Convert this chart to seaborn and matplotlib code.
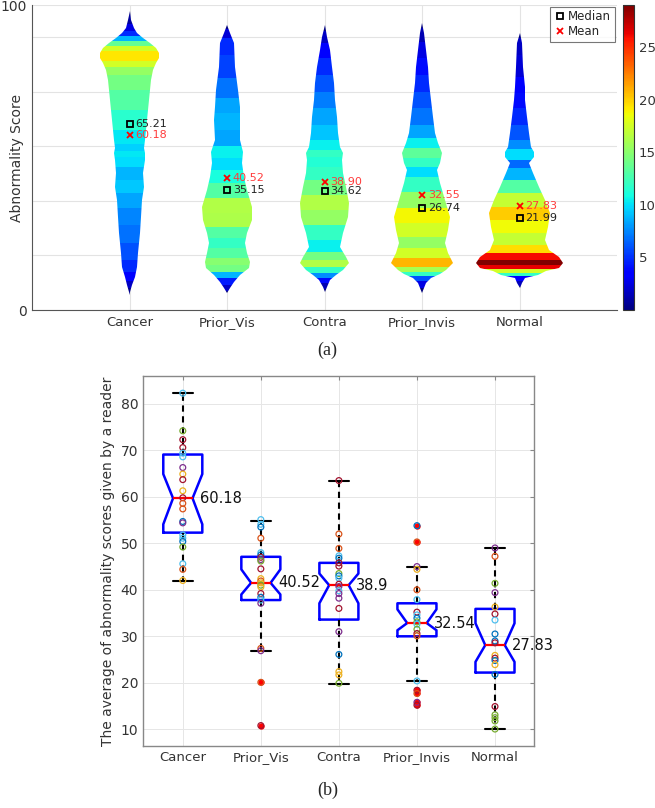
import numpy as np
import pandas as pd
import matplotlib
matplotlib.use("Agg")
import matplotlib.pyplot as plt
from matplotlib.colors import Normalize
from matplotlib.lines import Line2D
import seaborn as sns

sns.set_style("white")
plt.rcParams["font.family"] = ["DejaVu Sans"]

groups = ["Cancer", "Prior_Vis", "Contra", "Prior_Invis", "Normal"]

# ---- (a) violin profiles: score level -> density (colour-bar units) ----
cancer_lv = [98.1, 95.1, 92.3, 90.7, 89.1, 87.4, 85.8, 84.2, 82.5, 80.9, 78.7, 75.4, 68.9, 62.3,
             55.7, 53.0, 51.4, 49.2, 44.8, 40.4, 36.1, 30.6, 25.1, 18.6, 14.2, 10.9, 8.2, 6.0, 4.9]
cancer_d = [0, 0.9, 2.6, 4.8, 8.8, 13.6, 17.5, 19.3, 19.3, 17.5, 15.3, 14.2, 13.1, 11.6,
            10.3, 9.6, 10.3, 9.9, 8.8, 9.4, 8.3, 7.4, 6.8, 5.9, 4.8, 3.3, 1.8, 0.4, 0]

priorvis_lv = [93.4, 90.7, 87.4, 79.8, 72.1, 66.7, 62.3, 55.7, 51.9, 48.1, 43.7, 39.3, 33.9, 29.5,
               25.1, 21.9, 18.6, 15.8, 13.7, 11.5, 9.3, 7.1, 5.5]
priorvis_d = [0, 2.2, 4.8, 5.5, 7.0, 8.3, 8.8, 8.3, 10.5, 9.9, 11.0, 13.1, 16.4, 16.2,
              13.1, 12.0, 13.1, 14.9, 14.2, 8.8, 4.4, 1.8, 0]

contra_lv = [93.4, 89.6, 85.2, 79.8, 74.3, 68.9, 63.4, 57.9, 53.6, 51.4, 49.2, 44.8, 40.4, 35.0,
             30.6, 25.1, 20.8, 17.5, 15.3, 13.1, 11.5, 9.8, 7.7, 6.0]
contra_d = [0, 1.8, 3.3, 4.8, 6.1, 7.2, 8.3, 9.2, 10.5, 12.0, 11.4, 12.0, 14.2, 16.4,
            15.3, 12.0, 10.5, 14.2, 16.4, 12.0, 7.7, 3.9, 1.3, 0]

priorinvis_lv = [94.2, 90.7, 85.2, 79.8, 74.3, 68.9, 63.4, 57.9, 54.6, 51.4, 48.1, 45.9, 41.5, 36.1,
                 30.6, 26.2, 21.9, 18.6, 15.3, 13.1, 11.8, 10.4, 8.7, 5.5]
priorinvis_d = [0, 1.3, 2.6, 3.9, 4.8, 5.9, 7.0, 8.3, 10.5, 13.4, 12.0, 9.9, 12.0, 15.3,
                18.8, 17.5, 15.3, 17.5, 20.8, 16.0, 12.0, 6.0, 2.5, 0]

normal_lv = [90.7, 87.4, 79.8, 73.2, 68.9, 63.4, 57.9, 53.6, 51.9, 50.3, 48.1, 44.8, 40.4, 36.1,
             31.7, 27.3, 23.0, 19.7, 17.5, 15.3, 13.9, 12.9, 11.6, 10.4, 8.7, 7.1]
normal_d = [0, 1.8, 2.2, 3.3, 3.9, 4.8, 6.1, 7.7, 9.9, 9.9, 6.6, 8.8, 13.1, 17.1,
            20.1, 18.6, 17.1, 19.5, 26.0, 28.9, 26.3, 17.5, 12.0, 3.3, 1.5, 0]

median_y = [60.9, 39.3, 39.0, 33.3, 30.1]
mean_y = [57.4, 43.2, 42.1, 37.7, 34.2]
median_txt = [65.21, 35.15, 34.62, 26.74, 21.99]
mean_txt = [60.18, 40.52, 38.90, 32.55, 27.83]

# ---- (b) box statistics ----
q1 = [52.3, 37.8, 33.6, 30.0, 22.2]
q3 = [69.1, 47.1, 45.8, 37.1, 35.9]
med = [59.7, 41.5, 41.0, 32.85, 28.1]
ci_lo = [54.1, 39.0, 37.1, 31.3, 24.5]
ci_hi = [64.9, 44.4, 43.5, 35.8, 32.8]
whis_lo = [42.0, 26.8, 19.8, 20.4, 10.05]
whis_hi = [82.3, 54.9, 63.4, 44.95, 49.0]
fliers = [[], [20.1, 10.8], [], [53.8, 50.3, 18.4, 17.7, 15.8, 15.2], []]
box_labels = [60.18, 40.52, 38.9, 32.54, 27.83]

# reader averages + colour code of each reader
cancer_pts = [82.3, 74.2, 72.3, 70.6, 69.4, 68.6, 66.3, 64.9, 63.7, 61.3, 59.8, 58.6, 57.4, 54.7,
              54.4, 51.8, 51.1, 50.4, 49.2, 45.6, 44.4, 42.0]
cancer_cc = "LGRRLLPYRYROOBPLLBGLOY"
priorvis_pts = [55.1, 54.1, 53.5, 51.1, 48.0, 47.5, 47.0, 46.5, 46.2, 44.5, 42.4, 41.9, 41.5, 41.0,
                40.6, 39.2, 38.4, 37.8, 37.1, 27.4, 26.9, 20.1, 10.8]
priorvis_cc = "LLBOLBRPGRYOYGYRBLPOPOR"
contra_pts = [63.5, 52.0, 48.9, 47.3, 46.8, 45.8, 45.1, 43.5, 43.0, 42.5, 41.2, 40.7, 39.8, 39.2,
              38.2, 36.0, 31.0, 26.1, 22.4, 21.7, 19.9]
contra_cc = "ROOLBRRGBLRPLPPRPBYYG"
priorinvis_pts = [53.8, 50.3, 45.0, 44.4, 40.0, 37.9, 35.2, 34.6, 33.9, 33.1, 32.6, 31.5, 30.6, 30.1,
                  20.4, 18.4, 17.7, 15.8, 15.2]
priorinvis_cc = "BOPYOLRLBGLGROLROPR"
normal_pts = [49.0, 47.2, 41.4, 39.4, 36.3, 34.8, 33.5, 30.5, 29.0, 28.6, 25.9, 25.3, 24.8, 23.9,
              21.8, 14.9, 13.1, 12.5, 11.8, 10.05]
normal_cc = "POGPYRLBBRYRBYBRGGGG"

matlab_cols = {"B": "#0072BD", "O": "#D95319", "Y": "#EDB120", "P": "#7E2F8E",
               "G": "#77AC30", "L": "#4DBEEE", "R": "#A2142F"}

violins = [(cancer_lv, cancer_d), (priorvis_lv, priorvis_d), (contra_lv, contra_d),
           (priorinvis_lv, priorinvis_d), (normal_lv, normal_d)]
points = [(cancer_pts, cancer_cc), (priorvis_pts, priorvis_cc), (contra_pts, contra_cc),
          (priorinvis_pts, priorinvis_cc), (normal_pts, normal_cc)]

fig = plt.figure(figsize=(6.55, 8.08), dpi=100)

# ================= (a) density violins =================
ax1 = fig.add_axes([0.049, 0.6163, 0.893, 0.3775])
cax = fig.add_axes([0.951, 0.6163, 0.0168, 0.3775])
cmap = plt.get_cmap("jet")
norm = Normalize(vmin=0, vmax=29)
wscale = 0.0155  # half-width (x units) per density unit

for pos, (lv, dens) in enumerate(violins, start=1):
    lv = np.asarray(lv)
    dens = np.asarray(dens)
    hw = dens * wscale
    xs = np.concatenate([pos - hw, (pos + hw)[::-1]])
    ys = np.concatenate([lv, lv[::-1]])
    poly = ax1.fill(xs, ys, facecolor="none", edgecolor="none")[0]
    edges = np.concatenate([[lv[0]], (lv[:-1] + lv[1:]) / 2, [lv[-1]]])
    mesh = ax1.pcolormesh([pos - hw.max(), pos + hw.max()], edges, dens[:, None],
                          cmap=cmap, norm=norm, shading="flat", zorder=2)
    mesh.set_clip_path(poly)

for pos in range(5):
    x = pos + 1
    ax1.plot(x, median_y[pos], marker="s", ms=4.5, mfc="none", mec="black", mew=1.3, zorder=4)
    ax1.plot(x, mean_y[pos], marker="x", ms=4.5, color="red", mew=1.3, zorder=4)
    ax1.text(x + 0.06, median_y[pos], f"{median_txt[pos]:.2f}", va="center", ha="left",
             fontsize=8, color="#222222", zorder=5)
    ax1.text(x + 0.06, mean_y[pos], f"{mean_txt[pos]:.2f}", va="center", ha="left",
             fontsize=8, color="#ff3b3b", zorder=5)

ax1.set_xlim(0, 6)
ax1.set_ylim(0, 100)
ax1.set_xticks(range(1, 6))
ax1.set_xticklabels(groups, fontsize=9.5, color="#333333")
ax1.set_yticks([0, 100])
ax1.set_yticks([17.9, 35.8, 53.7, 71.6, 89.5], minor=True)
ax1.set_yticklabels(["0", "100"], fontsize=10, color="#333333")
ax1.set_ylabel("Abnormality Score", fontsize=10, color="#333333")
ax1.yaxis.set_label_coords(-0.014, 0.5)
ax1.grid(True, which="both", color="#e3e3e3", lw=0.8)
ax1.set_axisbelow(True)
ax1.tick_params(which="both", direction="in", length=3, color="#888888", pad=4)
ax1.tick_params(axis="y", which="minor", length=0)
for s in ["top", "right"]:
    ax1.spines[s].set_visible(False)
for s in ["left", "bottom"]:
    ax1.spines[s].set_color("#555555")

handles = [Line2D([], [], marker="s", ls="none", ms=4.5, mfc="none", mec="black", mew=1.3, label="Median"),
           Line2D([], [], marker="x", ls="none", ms=4.5, color="red", mew=1.3, label="Mean")]
leg = ax1.legend(handles=handles, loc="upper right", bbox_to_anchor=(0.996, 0.995), fontsize=8.5,
                 frameon=True, fancybox=False, edgecolor="#555555", borderpad=0.3,
                 handletextpad=0.2, handlelength=1.0, labelspacing=0.2, borderaxespad=0)
leg.get_frame().set_linewidth(0.8)

cb = fig.colorbar(plt.cm.ScalarMappable(norm=norm, cmap=cmap), cax=cax)
cb.set_ticks([5, 10, 15, 20, 25])
cb.ax.tick_params(labelsize=9.5, length=3, direction="in", colors="#333333")
cb.outline.set_edgecolor("#333333")

fig.text(0.5, 0.567, "(a)", ha="center", va="center", fontsize=13, family="Liberation Serif")

# ================= (b) notched boxplots =================
ax2 = fig.add_axes([0.2183, 0.0767, 0.597, 0.458])

stats = []
for i in range(5):
    stats.append(dict(med=med[i], q1=q1[i], q3=q3[i], cilo=ci_lo[i], cihi=ci_hi[i],
                      whislo=whis_lo[i], whishi=whis_hi[i], fliers=fliers[i]))
ax2.bxp(stats, positions=range(5), widths=0.5, shownotches=True, showfliers=True, manage_ticks=False,
        boxprops=dict(color="blue", lw=1.8),
        medianprops=dict(color="red", lw=1.6),
        whiskerprops=dict(color="black", lw=1.5, ls=(0, (3, 2.2))),
        capprops=dict(color="black", lw=1.5),
        flierprops=dict(marker="o", ms=3.6, mfc="red", mec="red", ls="none"))

rows = []
for g, (vals, codes) in zip(groups, points):
    for v, c in zip(vals, codes):
        rows.append({"group": g, "score": v, "reader": c})
df = pd.DataFrame(rows)

n_before = len(ax2.collections)
sns.stripplot(data=df, x="group", y="score", hue="reader", order=groups, palette=matlab_cols,
              jitter=False, dodge=False, size=4.2, legend=False, ax=ax2)
for coll in ax2.collections[n_before:]:
    fc = coll.get_facecolors()
    coll.set_edgecolors(fc)
    coll.set_facecolors("none")
    coll.set_linewidths(0.9)
    coll.set_zorder(4)

for i in range(5):
    ax2.text(i + 0.22, med[i], f"{box_labels[i]:g}", va="center", ha="left", fontsize=10.5,
             color="#111111", zorder=5)

ax2.set_xlim(-0.51, 4.5)
ax2.set_ylim(6.4, 86)
ax2.set_yticks(range(10, 90, 10))
ax2.set_xticks(range(5))
ax2.set_xticklabels(groups, fontsize=9.5, color="#333333")
ax2.tick_params(axis="y", labelsize=10, colors="#333333")
ax2.set_xlabel("")
ax2.set_ylabel("The average of abnormality scores given by a reader", fontsize=10, color="#333333")
ax2.grid(True, color="#e6e6e6", lw=0.7)
ax2.set_axisbelow(True)
ax2.tick_params(direction="in", length=3, top=True, right=True, color="#888888")
for s in ax2.spines.values():
    s.set_color("#888888")
    s.set_linewidth(1.0)

fig.text(0.5, 0.0223, "(b)", ha="center", va="center", fontsize=13, family="Liberation Serif")

fig.savefig("out.png", dpi=100)
